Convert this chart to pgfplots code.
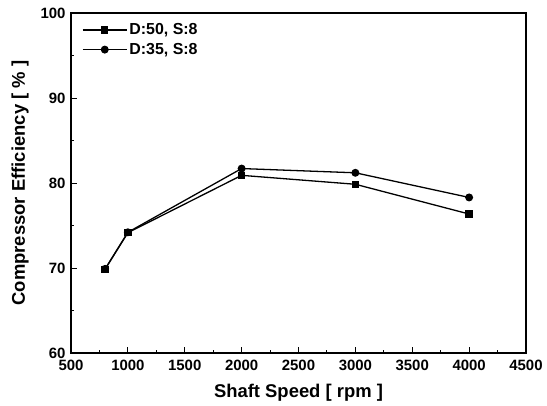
\documentclass[border=0pt]{standalone}
\usepackage{pgfplots}
\pgfplotsset{compat=1.18}
\usetikzlibrary{calc}
\usepackage{fontspec}
\setmainfont{Liberation Sans}
\begin{document}
\begin{tikzpicture}
\begin{axis}[
  scale only axis,
  width=455bp, height=340bp,
  xmin=500, xmax=4500, ymin=60, ymax=100,
  xtick={500,1000,...,4500},
  ytick={60,70,80,90,100},
  minor x tick num=1, minor y tick num=1,
  tick pos=left, tick align=inside,
  major tick length=6bp, minor tick length=3.5bp,
  every tick/.style={black, line width=1pt},
  axis line style={line width=1.2pt},
  /pgf/number format/assume math mode=true,
  /pgf/number format/1000 sep={},
  ticklabel style={font=\fontsize{15}{17}\selectfont\bfseries},
  xticklabel style={yshift=-4bp},
  yticklabel style={xshift=-2bp},
  xlabel={Shaft Speed [ rpm ]},
  ylabel={Compressor Efficiency [ \% ]},
  label style={font=\fontsize{18.5}{20}\selectfont\bfseries},
  xlabel style={yshift=-6bp},
  ylabel style={yshift=5bp},
  legend style={draw=none, fill=none, at={(0.024,0.975)}, anchor=north west,
    font=\fontsize{16}{18}\selectfont\bfseries, row sep=3bp, inner sep=0pt},
  legend cell align=left,
  legend image code/.code={
    \draw[#1] (0bp,0bp) -- (44bp,0bp);
    \draw[#1, mark repeat=2, mark phase=2] plot coordinates {(0bp,0bp) (22bp,0bp) (44bp,0bp)};
  },
]
\coordinate (sw) at (rel axis cs:0,0);
\coordinate (ne) at (rel axis cs:1,1);
\addplot[black, line width=1.3pt, mark=square*, mark size=3bp] coordinates {
  (800,69.85) (1000,74.15) (2000,80.9) (3000,79.85) (4000,76.35)
};
\addlegendentry{D:50, S:8}
\addplot[black, line width=1.3pt, mark=*, mark size=3.3bp] coordinates {
  (800,69.9) (1000,74.2) (2000,81.7) (3000,81.2) (4000,78.3)
};
\addlegendentry{D:35, S:8}
\end{axis}
\pgfresetboundingbox
\path ($(sw)+(-71bp,-53bp)$) rectangle ($(ne)+(21bp,13bp)$);
\end{tikzpicture}
\end{document}
